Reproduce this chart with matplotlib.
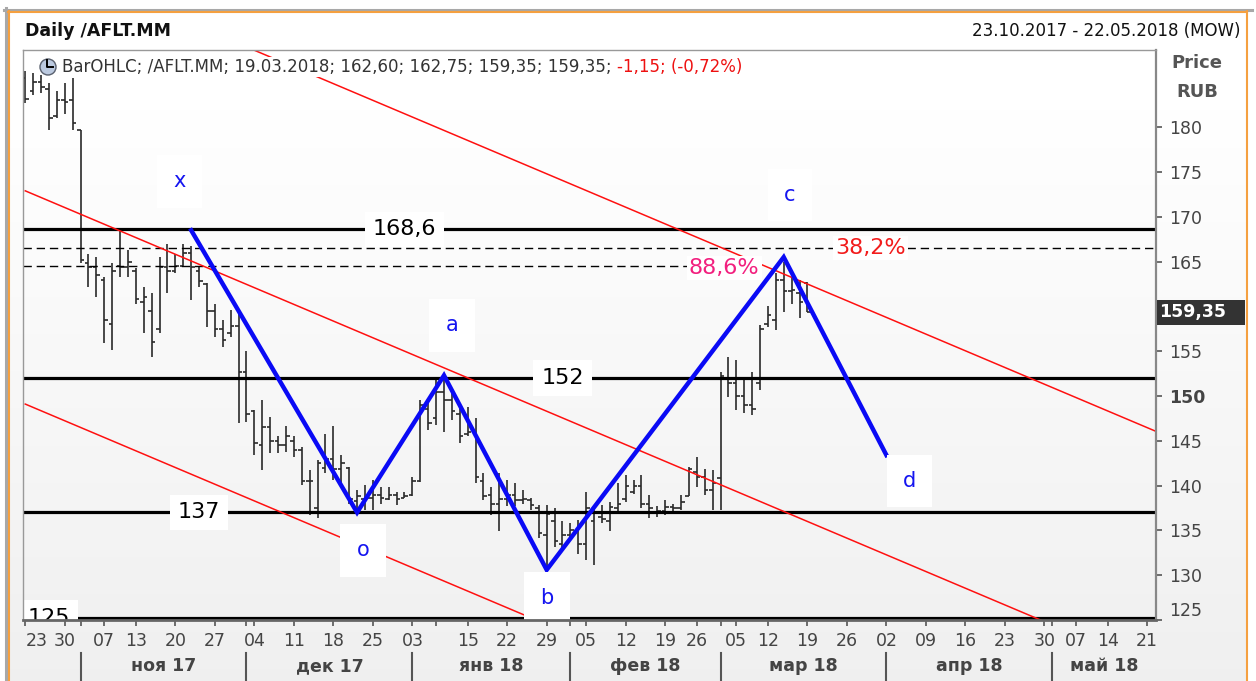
import numpy as np
import pandas as pd
import matplotlib.pyplot as plt
from matplotlib.patches import Ellipse, Rectangle
from matplotlib.lines import Line2D

# ---- data -----------------------------------------------------------------
# MOEX trading calendar for the shown window (non-trading weekdays removed)
start, end = '2017-10-23', '2018-05-22'
holidays = ['2017-11-06', '2018-01-01', '2018-01-02', '2018-01-08',
            '2018-02-23', '2018-03-08', '2018-05-01', '2018-05-09']

# daily OHLC, 23.10.2017 .. 19.03.2018
opens = [185.5, 184.0, 185.0, 184.3, 181.2, 183.0, 183.0, 179.7, 164.8, 164.4,
         163.0, 158.0, 164.5, 164.4, 164.0, 160.5, 159.5, 157.5, 164.4, 164.0,
         164.5, 166.0, 164.0, 162.5, 159.5, 157.5, 157.0, 157.8, 152.7, 148.3,
         144.5, 146.5, 145.0, 144.5, 145.0, 144.0, 140.5, 137.5, 142.0, 143.0,
         141.8, 142.0, 138.3, 138.5, 138.6, 139.0, 138.5, 139.0, 138.6, 139.0,
         140.5, 148.5, 147.5, 150.5, 149.5, 148.0, 145.8, 146.0, 140.5, 139.0,
         138.0, 138.5, 139.0, 138.4, 138.4, 137.5, 134.5, 136.0, 133.5, 134.5,
         135.0, 133.5, 136.0, 136.5, 136.0, 137.5, 138.5, 139.3, 140.0, 138.0,
         137.0, 137.2, 137.6, 137.5, 138.8, 141.5, 141.0, 139.5, 140.8, 152.0,
         151.5, 150.0, 149.0, 151.5, 158.0, 158.5, 163.0, 161.7, 161.5, 162.60]
highs = [186.3, 186.0, 185.8, 184.9, 184.0, 184.9, 185.5, 179.7, 165.9, 165.55,
         163.3, 164.8, 168.5, 166.3, 164.25, 162.2, 161.5, 165.55, 167.0, 165.9,
         167.0, 166.7, 164.4, 162.6, 160.3, 158.5, 159.6, 159.2, 155.0, 148.4,
         149.6, 147.7, 145.5, 146.6, 145.5, 144.3, 141.7, 142.9, 145.8, 146.6,
         143.4, 142.1, 139.5, 140.1, 140.6, 139.9, 139.9, 139.3, 139.3, 141.0,
         149.6, 149.2, 152.0, 151.8, 150.5, 148.8, 148.8, 147.5, 141.4, 139.9,
         141.4, 140.6, 140.3, 139.5, 138.6, 137.8, 137.8, 137.5, 136.0, 135.8,
         136.2, 139.3, 137.7, 137.8, 138.2, 140.3, 141.2, 140.6, 141.2, 139.0,
         137.7, 138.4, 138.0, 139.0, 142.1, 143.2, 141.9, 141.7, 152.7, 154.4,
         154.0, 151.8, 152.7, 157.9, 160.0, 163.7, 165.0, 163.3, 162.9, 162.75]
lows = [182.7, 183.6, 183.8, 179.7, 181.0, 181.5, 179.7, 164.8, 162.2, 161.1,
        155.9, 155.1, 163.3, 163.3, 160.3, 157.0, 154.4, 157.0, 161.5, 163.7,
        164.4, 160.7, 162.2, 157.7, 156.6, 155.5, 156.6, 147.0, 147.1, 143.4,
        141.7, 143.6, 143.6, 143.8, 143.2, 140.1, 136.7, 136.4, 141.4, 140.6,
        140.3, 138.0, 137.3, 137.3, 137.3, 138.0, 138.4, 137.8, 138.6, 138.8,
        140.4, 146.2, 146.8, 146.0, 147.3, 144.7, 145.5, 140.3, 138.4, 136.7,
        134.9, 137.7, 137.7, 138.0, 137.3, 134.1, 130.6, 133.2, 132.8, 133.9,
        132.4, 131.7, 131.1, 135.8, 134.9, 136.9, 138.2, 139.1, 137.5, 136.4,
        136.5, 136.7, 137.1, 137.3, 138.8, 139.9, 139.0, 137.3, 137.3, 149.9,
        148.4, 148.1, 147.9, 150.7, 157.7, 157.4, 159.4, 160.3, 158.7, 159.35]
closes = [183.2, 185.0, 184.5, 181.0, 183.0, 182.8, 180.5, 165.2, 164.4, 163.5,
          158.5, 164.0, 164.4, 165.0, 160.8, 161.0, 156.0, 164.4, 164.0, 164.5,
          166.0, 164.4, 162.8, 159.5, 157.5, 156.3, 157.8, 152.7, 148.0, 144.7,
          146.5, 145.0, 144.5, 145.5, 144.0, 140.5, 140.5, 142.5, 143.0, 141.8,
          142.5, 138.5, 138.8, 138.6, 138.9, 138.6, 139.0, 138.5, 138.8, 140.5,
          149.0, 147.0, 150.5, 149.5, 148.3, 145.5, 146.0, 141.0, 138.8, 138.0,
          138.5, 139.0, 138.4, 138.5, 137.8, 134.7, 136.8, 133.8, 134.5, 135.0,
          133.5, 137.5, 136.9, 136.3, 137.6, 138.0, 140.0, 140.0, 138.0, 137.5,
          137.2, 137.6, 137.5, 138.2, 141.8, 141.0, 139.5, 140.3, 152.2, 151.5,
          150.0, 149.0, 148.5, 157.5, 159.0, 163.0, 161.7, 161.8, 160.50, 159.35]

# horizontal support / resistance levels
levels = [168.6, 152, 137, 125.25]
level_labels = ['168,6', '152', '137', '125']
level_label_dates = ['2017-12-29', '2018-01-31', '2017-11-23', '2017-10-26']

# fibonacci levels
fib_prices = [166.5, 164.5]
fib_labels = ['38,2%', '88,6%']
fib_label_dates = ['2018-03-29', '2018-02-22']
fib_colors = ['#f21c1c', '#f2207f']

# wave pivots x-o-a-b-c-d
pivot_names = ['x', 'o', 'a', 'b', 'c', 'd']
pivot_dates = ['2017-11-22', '2017-12-21', '2018-01-10', '2018-01-29',
               '2018-03-14', '2018-04-02']
pivot_prices = [168.5, 137.0, 152.3, 130.6, 165.5, 143.4]
pivot_label_offsets = [(-12, 49), (6, -38), (8, 50), (0, -28), (6, 62), (23, -26)]

# red parallel channel (price at first and last calendar date)
chan_left = [199.4, 172.9, 149.1]
chan_right = [146.1, 119.6, 95.8]

last_info = 'BarOHLC; /AFLT.MM; 19.03.2018; 162,60; 162,75; 159,35; 159,35; '
last_change = '-1,15; (-0,72%)'
last_price = 159.35

ru_months = ['янв', 'фев', 'мар', 'апр', 'май', 'июн',
             'июл', 'авг', 'сен', 'окт', 'ноя', 'дек']

# ---- calendar -> bar index ------------------------------------------------
days = pd.bdate_range(start, end)
days = days[~days.isin(pd.to_datetime(holidays))]
index_of = {d: i for i, d in enumerate(days)}


def xpos(date):
    return index_of[pd.Timestamp(date)]


# ---- figure ---------------------------------------------------------------
W, H = 1256, 681
fig = plt.figure(figsize=(W / 100, H / 100), dpi=100)
fig.patch.set_facecolor('white')


def fx(px):
    return px / W


def fy(py):
    return 1 - py / H


# soft vertical gradient inside the frame
bg = fig.add_axes([fx(10), 0, fx(1246) - fx(10), fy(13)], zorder=-5)
bg.axis('off')
rows = np.linspace(13, 681, 300)
shade = np.clip(1 - (rows - 110) / (681 - 110) * 0.06, 0.94, 1.0)
bg.imshow(np.repeat(shade[:, None, None], 3, axis=2), aspect='auto',
          extent=[0, 1, 0, 1], interpolation='bilinear')

# frame lines
for (xa, ya, xb, yb, c, lw) in [
        (4, 9.5, 1252, 9.5, '#a8a8a8', 2.2), (5.5, 8, 5.5, 681, '#a8a8a8', 2.2),
        (8, 12, 1247, 12, '#f5a040', 1.5), (9, 11, 9, 681, '#f5a040', 1.5),
        (1246.5, 11, 1246.5, 681, '#f5a040', 1.5)]:
    fig.add_artist(Line2D([fx(xa), fx(xb)], [fy(ya), fy(yb)], color=c, lw=lw))

X0, X1, Y0, Y1 = 22.5, 1155.5, 50, 620
ax = fig.add_axes([fx(X0), fy(Y1), fx(X1) - fx(X0), fy(Y0) - fy(Y1)])
ax.set_facecolor('none')
ax.set_xlim(-0.35, 143.06)
ax.set_ylim(125, 188.62)

# OHLC bars
xi = np.arange(len(opens))
bar_c = '#2a2a2a'
ax.vlines(xi, lows, highs, color=bar_c, lw=1.2, zorder=3)
ax.hlines(opens, xi - 0.45, xi, color=bar_c, lw=1.2, zorder=3)
ax.hlines(closes, xi, xi + 0.45, color=bar_c, lw=1.2, zorder=3)

# channel
cx = [0, len(days) - 1]
for pl, pr in zip(chan_left, chan_right):
    ax.plot(cx, [pl, pr], color='#ff1010', lw=1.1, zorder=3.5)

# levels
for lv, lab, d in zip(levels, level_labels, level_label_dates):
    ax.axhline(lv, color='black', lw=2.3, zorder=3.2)
    t = ax.text(xpos(d), lv, lab, ha='center', va='center', fontsize=16,
                color='black', zorder=6,
                bbox=dict(boxstyle='square,pad=0.35', fc='white', ec='none'))
    t.set_clip_on(True)
    t.set_clip_box(ax.bbox)

# fibonacci
dash = (0, (6, 3.5))
ax.axhline(fib_prices[0], color='black', lw=1.0, ls=dash, zorder=3.1)
ax.hlines(fib_prices[1], ax.get_xlim()[0], xpos(fib_label_dates[1]),
          color='black', lw=1.0, linestyles=[dash], zorder=3.1)
ax.text(xpos(fib_label_dates[0]), fib_prices[0], fib_labels[0], ha='center',
        va='center', fontsize=16, color=fib_colors[0], zorder=6,
        bbox=dict(boxstyle='square,pad=0.1', fc='white', ec='none'))
ax.text(xpos(fib_label_dates[1]), fib_prices[1] - 0.2, fib_labels[1], ha='left',
        va='center', fontsize=16, color=fib_colors[1], zorder=6,
        bbox=dict(boxstyle='square,pad=0.1', fc='white', ec='none'))

# wave pivots
px_ = [xpos(d) for d in pivot_dates]
ax.plot(px_, pivot_prices, color='#0a0af5', lw=3.2, zorder=5,
        solid_joinstyle='miter')
for n, x, y, off in zip(pivot_names, px_, pivot_prices, pivot_label_offsets):
    a = ax.annotate(n, (x, y), xytext=off, textcoords='offset pixels',
                    ha='center', va='center', fontsize=15, color='#1515f0',
                    zorder=6, annotation_clip=False,
                    bbox=dict(boxstyle='square,pad=0.78', fc='white', ec='none'))
    a.set_clip_on(True)
    a.set_clip_box(ax.bbox)

# spines
for s, c, w in [('left', '#999999', 1.0), ('top', '#999999', 1.0),
                ('right', '#888888', 1.6), ('bottom', '#666666', 2.0)]:
    ax.spines[s].set_color(c)
    ax.spines[s].set_linewidth(w)
    ax.spines[s].set_zorder(7)

# y axis
yt = [125, 130, 135, 140, 145, 150, 155, 165, 170, 175, 180]
ax.yaxis.tick_right()
ax.set_yticks(yt)
ax.set_yticklabels([str(v) for v in yt])
ax.tick_params(axis='y', direction='out', length=4.5, width=1.2, color='#555555',
               labelcolor='#444444', labelsize=12.5, pad=5)
for t in ax.get_yticklabels():
    if t.get_text() == '150':
        t.set_fontweight('bold')
    if t.get_text() == '125':
        t.set_va('bottom')

# x axis: first trading day of every week, month starts as minor ticks
week_idx, week_lab = [], []
prev_wk = None
for i, d in enumerate(days):
    wk = d.isocalendar()[1]
    if wk != prev_wk:
        lab = d.strftime('%d')
        if week_idx and i - week_idx[-1] < 4:
            lab = ''
        week_idx.append(i)
        week_lab.append(lab)
        prev_wk = wk
month_idx = [i for i in range(1, len(days)) if days[i].month != days[i - 1].month]

ax.set_xticks(week_idx)
ax.set_xticklabels(week_lab)
ax.set_xticks(month_idx, minor=True)
ax.tick_params(axis='x', which='both', direction='out', length=4.5, width=1.2,
               color='#555555', labelcolor='#444444', labelsize=12.5, pad=4)
ax.get_xticklabels()[0].set_ha('left')

# month band
tr = ax.get_xaxis_transform()
ya = (Y1 - 653) / (Y1 - Y0)
yb = (Y1 - 681) / (Y1 - Y0)
ym = (Y1 - 666) / (Y1 - Y0)
bounds = month_idx + [ax.get_xlim()[1]]
for k, m in enumerate(month_idx):
    ax.plot([m, m], [ya, yb], transform=tr, color='#555555', lw=1.5,
            clip_on=False)
    d = days[m]
    ax.text((m + bounds[k + 1]) / 2, ym, f'{ru_months[d.month - 1]} {d.year % 100}',
            transform=tr, ha='center', va='center', fontsize=12.5,
            fontweight='bold', color='#444444', clip_on=False)

# header
fig.text(fx(25), fy(31), 'Daily /AFLT.MM', ha='left', va='center', fontsize=12.5,
         fontweight='bold', color='#111111')
fig.text(fx(1241), fy(31), '23.10.2017 - 22.05.2018 (MOW)', ha='right',
         va='center', fontsize=12, color='#111111')
fig.text(fx(1197), fy(63), 'Price', ha='center', va='center', fontsize=13,
         fontweight='bold', color='#555555')
fig.text(fx(1197), fy(92), 'RUB', ha='center', va='center', fontsize=13,
         fontweight='bold', color='#555555')

# last price marker
fig.add_artist(Rectangle((fx(1157), fy(325)), fx(1245) - fx(1157), fy(300) - fy(325),
                         transform=fig.transFigure, fc='#333333', ec='none'))
fig.text(fx(1159), fy(312.5), f'{last_price:.2f}'.replace('.', ','), ha='left',
         va='center', fontsize=12.5, fontweight='bold', color='white')

# legend line
fig.add_artist(Ellipse((fx(48), fy(67)), 16 / W, 16 / H, transform=fig.transFigure,
                       fc='#bccae0', ec='#59606e', lw=1.0))
fig.add_artist(Line2D([fx(47), fx(47), fx(53)], [fy(60), fy(67), fy(67)],
                      color='black', lw=1.4))
t1 = fig.text(fx(62), fy(67), last_info, ha='left', va='center', fontsize=12,
              color='#333333',
              bbox=dict(boxstyle='square,pad=0.05', fc='white', ec='none'))
fig.canvas.draw()
bb = t1.get_window_extent()
fig.text(bb.x1 / W, fy(67), last_change, ha='left', va='center', fontsize=12,
         color='#ee1111',
         bbox=dict(boxstyle='square,pad=0.05', fc='white', ec='none'))

fig.savefig('out.png', dpi=100, facecolor='white')
